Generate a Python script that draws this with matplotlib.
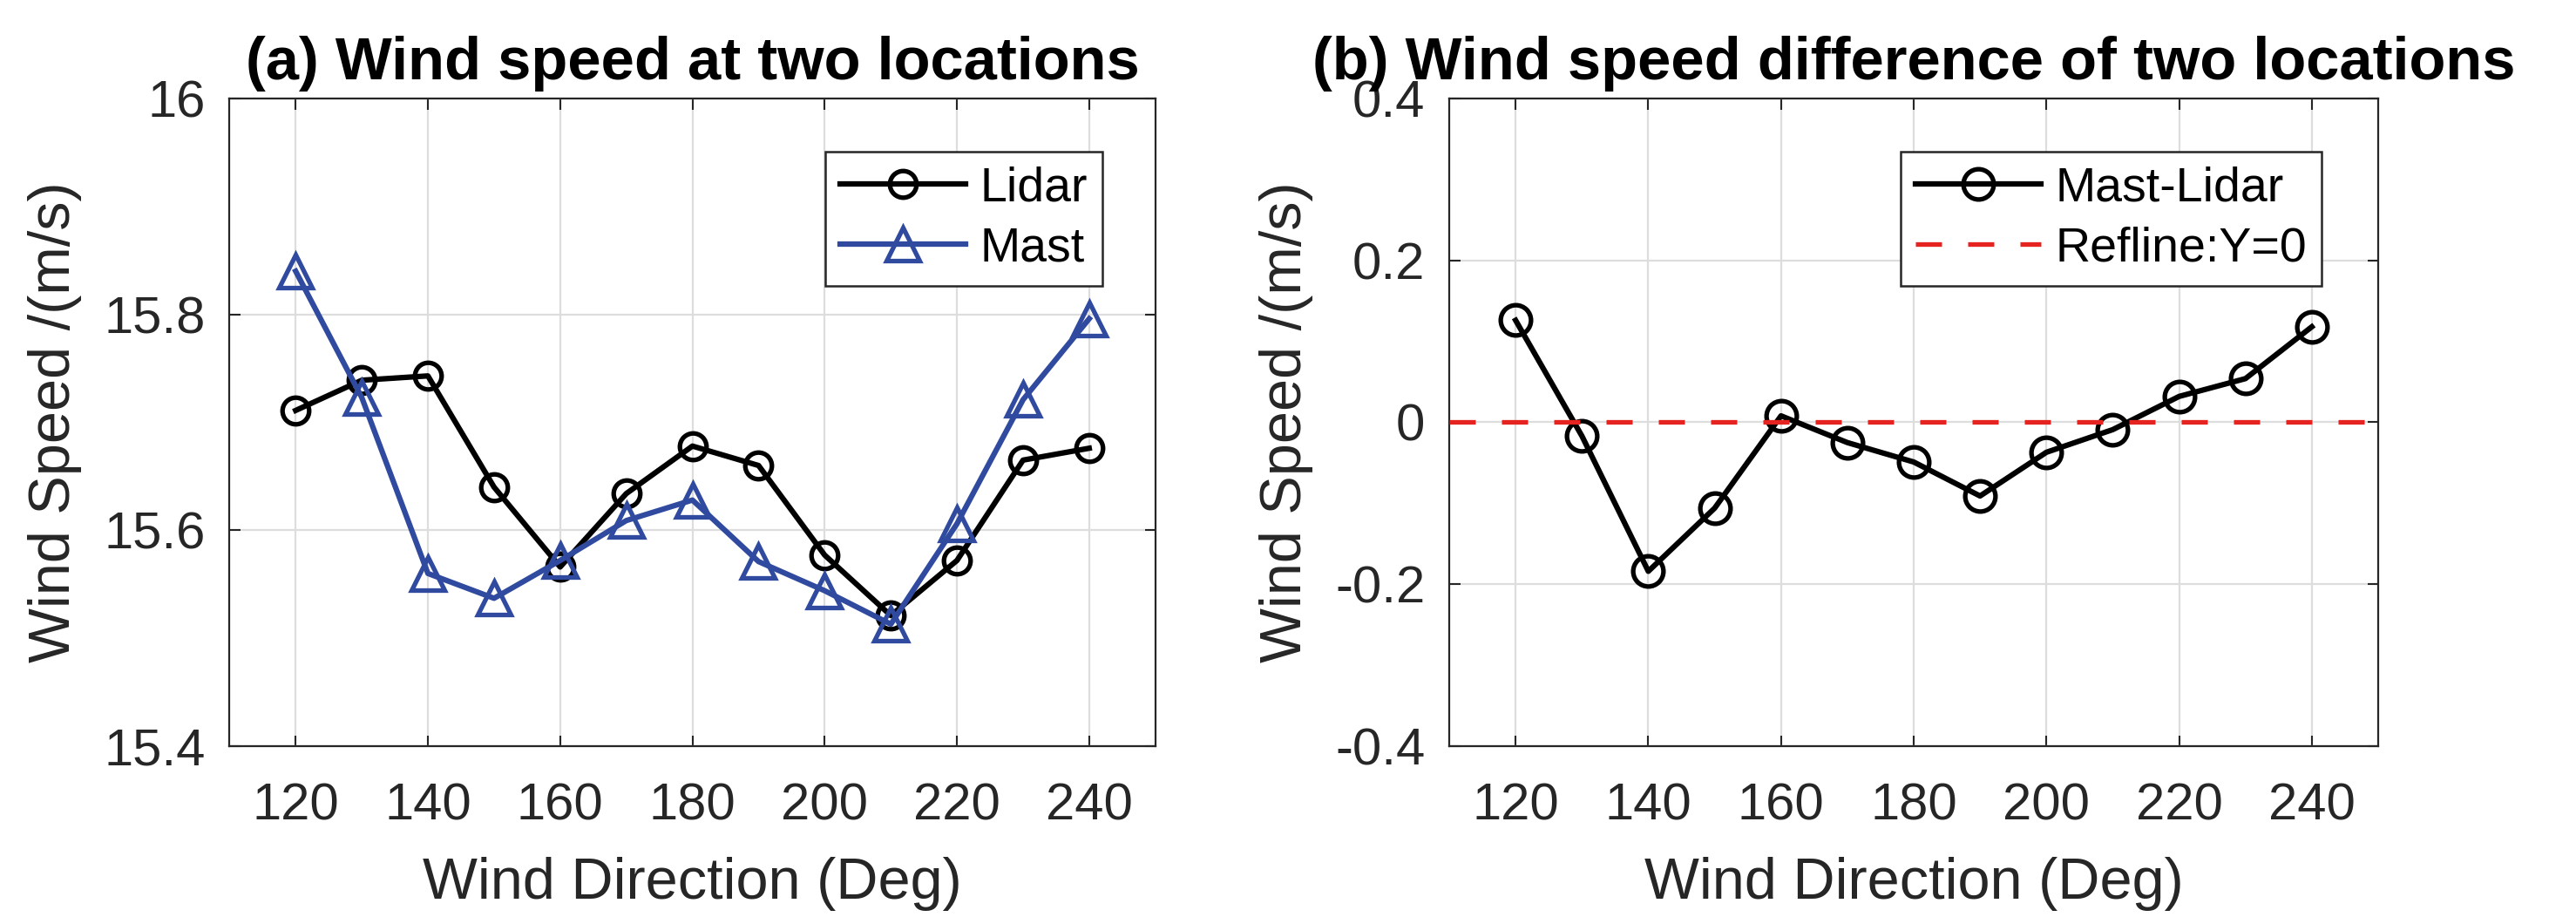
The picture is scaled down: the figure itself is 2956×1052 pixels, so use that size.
import numpy as np
import matplotlib
matplotlib.use('Agg')
import matplotlib.pyplot as plt

# ---------------- data ----------------
wind_dir = [120, 130, 140, 150, 160, 170, 180, 190, 200, 210, 220, 230, 240]
lidar = [15.711, 15.739, 15.743, 15.640, 15.566, 15.634, 15.678,
         15.660, 15.577, 15.521, 15.572, 15.665, 15.676]
mast = [15.840, 15.723, 15.560, 15.537, 15.572, 15.609, 15.628,
        15.571, 15.544, 15.513, 15.606, 15.721, 15.796]
diff = [0.126, -0.017, -0.184, -0.106, 0.008, -0.025, -0.049,
        -0.091, -0.037, -0.009, 0.032, 0.054, 0.118]

xticks = [120, 140, 160, 180, 200, 220, 240]
yticks_a = [15.4, 15.6, 15.8, 16.0]
yticklabels_a = ['15.4', '15.6', '15.8', '16']
yticks_b = [-0.4, -0.2, 0, 0.2, 0.4]
yticklabels_b = ['-0.4', '-0.2', '0', '0.2', '0.4']

# ---------------- style ----------------
plt.rcParams['font.family'] = ['Liberation Sans', 'DejaVu Sans']
plt.rcParams['lines.scale_dashes'] = False
BLUE = '#2F4A9E'
RED = '#E52421'
FRAME = '#262626'
TICK_FS = 43
LABEL_FS = 48
TITLE_FS = 49.5
LEG_FS = 40
LW = 4.5
MEW = 3.8

fig = plt.figure(figsize=(29.56, 10.52), dpi=100)
ax1 = fig.add_axes([0.0891, 0.1863, 0.3594, 0.7063])
ax2 = fig.add_axes([0.5626, 0.1863, 0.3606, 0.7063])


def style_axes(ax):
    ax.set_xlim(110, 250)
    ax.set_xticks(xticks)
    ax.grid(True, color='#DDDDDD', linewidth=1.6)
    ax.set_axisbelow(True)
    ax.tick_params(direction='in', length=9, width=1.5, colors=FRAME,
                   labelsize=TICK_FS, top=True, right=True)
    ax.tick_params(axis='x', pad=30)
    ax.tick_params(axis='y', pad=20)
    for s in ax.spines.values():
        s.set_color(FRAME)
        s.set_linewidth(1.6)
    ax.set_xlabel('Wind Direction (Deg)', fontsize=LABEL_FS, labelpad=22, color=FRAME)
    ax.set_ylabel('Wind Speed /(m/s)', fontsize=LABEL_FS, labelpad=18, color=FRAME)


def add_legend(ax, right):
    leg = ax.legend(loc='upper right', bbox_to_anchor=(right, 0.918), borderaxespad=0,
                    fontsize=LEG_FS, fancybox=False, framealpha=1, edgecolor=FRAME,
                    handlelength=2.6, handletextpad=0.3, borderpad=0.3,
                    labelspacing=0.3)
    leg.get_frame().set_linewidth(1.8)


# ---------- (a) ----------
ax1.plot(wind_dir, lidar, '-o', color='black', linewidth=LW, markersize=22,
         markeredgewidth=MEW, markerfacecolor='none', label='Lidar')
ax1.plot(wind_dir, mast, '-^', color=BLUE, linewidth=LW, markersize=28,
         markeredgewidth=MEW, markerfacecolor='none', label='Mast')
style_axes(ax1)
ax1.set_ylim(15.4, 16.0)
ax1.set_yticks(yticks_a)
ax1.set_yticklabels(yticklabels_a)
ax1.set_title('(a) Wind speed at two locations', fontsize=TITLE_FS,
              fontweight='bold', pad=16)
add_legend(ax1, 0.9426)

# ---------- (b) ----------
ax2.plot(wind_dir, diff, '-o', color='black', linewidth=LW, markersize=25,
         markeredgewidth=MEW, markerfacecolor='none', label='Mast-Lidar', zorder=3)
ax2.axhline(0, color=RED, linewidth=3.8, dashes=(21.6, 21.6), label='Refline:Y=0',
            zorder=4)
style_axes(ax2)
ax2.set_ylim(-0.4, 0.4)
ax2.set_yticks(yticks_b)
ax2.set_yticklabels(yticklabels_b)
ax2.set_title('(b) Wind speed difference of two locations', fontsize=TITLE_FS,
              fontweight='bold', pad=16)
add_legend(ax2, 0.939)

fig.savefig('out.png', dpi=100)
